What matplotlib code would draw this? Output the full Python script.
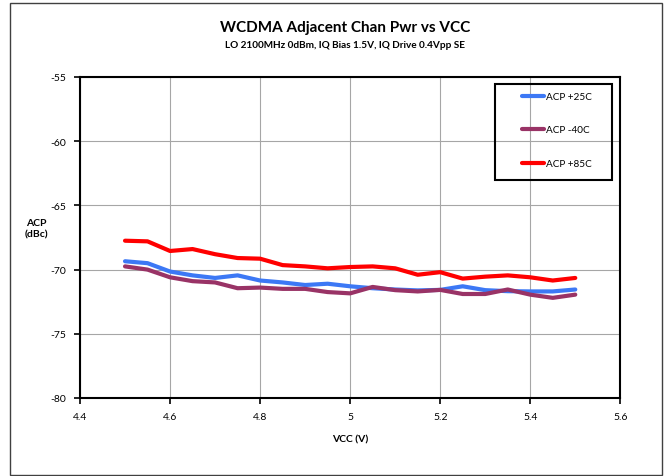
import matplotlib
matplotlib.use("Agg")
import matplotlib.pyplot as plt
from matplotlib.patches import Rectangle

plt.rcParams['font.family'] = ['Lato', 'DejaVu Sans']
plt.rcParams['axes.unicode_minus'] = False

vcc = [4.50, 4.55, 4.60, 4.65, 4.70, 4.75, 4.80, 4.85, 4.90, 4.95, 5.00,
       5.05, 5.10, 5.15, 5.20, 5.25, 5.30, 5.35, 5.40, 5.45, 5.50]
acp_25c = [-69.35, -69.5, -70.15, -70.45, -70.65, -70.45, -70.85, -71.0, -71.2, -71.1, -71.3,
           -71.45, -71.55, -71.62, -71.58, -71.3, -71.6, -71.68, -71.7, -71.7, -71.55]
acp_m40c = [-69.75, -70.0, -70.6, -70.9, -71.0, -71.45, -71.4, -71.5, -71.5, -71.75, -71.85,
            -71.35, -71.6, -71.7, -71.58, -71.9, -71.9, -71.55, -71.95, -72.2, -71.95]
acp_85c = [-67.75, -67.8, -68.55, -68.4, -68.8, -69.1, -69.15, -69.65, -69.75, -69.9, -69.8,
           -69.75, -69.9, -70.4, -70.2, -70.7, -70.55, -70.45, -70.6, -70.85, -70.65]
labels = ["ACP +25C", "ACP -40C", "ACP +85C"]
colors = ["#3c78f5", "#993366", "#ff0000"]
xticks = [4.4, 4.6, 4.8, 5.0, 5.2, 5.4, 5.6]
xticklabels = ["4.4", "4.6", "4.8", "5", "5.2", "5.4", "5.6"]
yticks = [-80, -75, -70, -65, -60, -55]

W, H = 665, 477
fig = plt.figure(figsize=(W / 100, H / 100), dpi=100)
fig.patches.append(Rectangle((10 / W, 1 / H), 652 / W, 472.5 / H, transform=fig.transFigure,
                             fill=False, edgecolor="#404040", linewidth=1.0))

L, R, T, B = 80, 620.3, 78, 399
ax = fig.add_axes([L / W, 1 - B / H, (R - L) / W, (B - T) / H])

for ys, lab, c in zip([acp_25c, acp_m40c, acp_85c], labels, colors):
    ax.plot(vcc, ys, color=c, linewidth=3.0, label=lab, solid_joinstyle="round",
            solid_capstyle="round")

ax.set_xlim(4.4, 5.6)
ax.set_ylim(-80, -55)
ax.set_xticks(xticks)
ax.set_xticklabels(xticklabels)
ax.set_yticks(yticks)
ax.grid(True, color="#a6a6a6", linewidth=0.8)
ax.set_axisbelow(True)
for s in ax.spines.values():
    s.set_linewidth(1.5)
    s.set_color("black")
ax.tick_params(direction="out", length=4, width=1.2, labelsize=7.5, pad=6)

fig.text(345 / W, 1 - 28 / H, "WCDMA Adjacent Chan Pwr vs VCC", ha="center", va="center",
         fontsize=11, fontweight="bold")
fig.text(345 / W, 1 - 45 / H, "LO 2100MHz 0dBm, IQ Bias 1.5V, IQ Drive 0.4Vpp SE",
         ha="center", va="center", fontsize=7.2, fontweight="bold")
fig.text(36 / W, 1 - 229 / H, "ACP\n(dBc)", ha="center", va="center", fontsize=7.5,
         fontweight="bold", linespacing=1.4)
fig.text(350 / W, 1 - 440 / H, "VCC (V)", ha="center", va="center", fontsize=7.5,
         fontweight="bold")

# legend box
ax.add_patch(Rectangle(((495 - L) / (R - L), (B - 181) / (B - T)), (611.7 - 495) / (R - L),
                       (181 - 85) / (B - T), transform=ax.transAxes, fill=False,
                       edgecolor="black", linewidth=1.5, zorder=5))
ax.legend(loc="upper left", bbox_to_anchor=((522 - L) / (R - L), (B - 93) / (B - T)),
          frameon=False, borderpad=0, borderaxespad=0, labelspacing=2.45,
          handlelength=2.2, handletextpad=0.15, fontsize=7.2)

fig.savefig("out.png", dpi=100)
